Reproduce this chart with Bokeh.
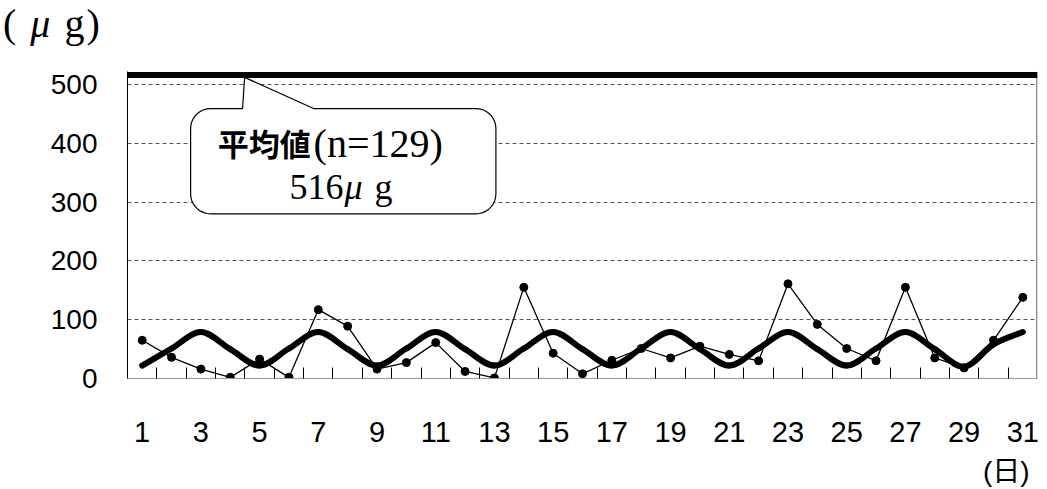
from bokeh.plotting import figure
from bokeh.layouts import column
from bokeh.models import Range1d, FixedTicker, Span, Div
from bokeh.core.properties import value
from bokeh.embed import file_html
from bokeh.resources import INLINE
import numpy as np

# --- data -------------------------------------------------------------
days = list(range(1, 32))
daily_intake = [65, 36, 16, 2, 33, 2, 117, 89, 16, 27, 61, 12, 1, 155, 43, 8,
                31, 51, 35, 55, 41, 30, 161, 92, 51, 30, 155, 35, 18, 65, 138]
reference_curve = [22, 51, 79, 50, 22, 51, 79, 50, 22, 51, 79, 50, 22, 51, 79, 50,
                   22, 51, 79, 50, 22, 51, 79, 50, 22, 51, 79, 50, 20, 58, 79]
mean_value = 516
sample_count = 129
x_tick_days = list(range(1, 32, 2))
y_ticks = [0, 100, 200, 300, 400, 500]
grid_levels = [100, 200, 300, 400, 500]

SANS = "Liberation Sans"
W, H = 1047, 489
HEAD_H, FOOT_H = 50, 31

# --- unit caption above the chart --------------------------------------
head = Div(width=W, height=HEAD_H, margin=0,
           text='<div style="padding:4px 0 0 3px; font-family:\'Liberation Serif\'; '
                'font-size:40px; line-height:40px; letter-spacing:2px; '
                'white-space:nowrap; color:#000;">( <i>μ</i> g)</div>')

# --- main chart ---------------------------------------------------------
p = figure(width=W, height=H - HEAD_H - FOOT_H, output_backend="svg", toolbar_location=None,
           x_range=Range1d(0.5, 31.5), y_range=Range1d(0, 522),
           min_border_left=127, min_border_right=10,
           min_border_top=21, min_border_bottom=80, margin=0)
p.outline_line_color = None
p.background_fill_color = "white"
p.border_fill_color = "white"

# axes
p.xaxis.ticker = FixedTicker(ticks=x_tick_days,
                             minor_ticks=[d + 0.5 for d in days[:-1]])
p.xaxis.major_tick_in = 0
p.xaxis.major_tick_out = 0
p.xaxis.minor_tick_in = 11
p.xaxis.minor_tick_out = 0
p.xaxis.minor_tick_line_color = "black"
p.xaxis.axis_line_color = "#999999"
p.xaxis.major_label_text_font = SANS
p.xaxis.major_label_text_font_size = "29px"
p.xaxis.major_label_text_color = "black"
p.xaxis.major_label_standoff = 43

p.yaxis.ticker = FixedTicker(ticks=y_ticks)
p.yaxis.major_tick_in = 0
p.yaxis.major_tick_out = 0
p.yaxis.minor_tick_line_color = None
p.yaxis.axis_line_color = "black"
p.yaxis.major_label_text_font = SANS
p.yaxis.major_label_text_font_size = "28px"
p.yaxis.major_label_text_color = "black"
p.yaxis.major_label_standoff = 30

p.xgrid.visible = False
p.ygrid.ticker = FixedTicker(ticks=grid_levels)
p.ygrid.grid_line_color = "#555555"
p.ygrid.grid_line_dash = "4 3"
p.ygrid.grid_line_width = 1

# right frame edge
p.add_layout(Span(location=31.48, dimension="height", line_color="#444444", line_width=1))


# speech-bubble callout for the mean value
def rounded_callout(x0, x1, y0, y1, rx, ry, base_l, base_r, tip):
    t = np.linspace(0, np.pi / 2, 10)
    xs, ys = [], []
    xs += list(x0 + rx - rx * np.cos(t)); ys += list(y1 - ry + ry * np.sin(t))
    xs += [base_l, tip[0], base_r]; ys += [y1, tip[1], y1]
    xs += list(x1 - rx + rx * np.sin(t)); ys += list(y1 - ry + ry * np.cos(t))
    xs += list(x1 - rx + rx * np.cos(t)); ys += list(y0 + ry - ry * np.sin(t))
    xs += list(x0 + rx - rx * np.sin(t)); ys += list(y0 + ry - ry * np.cos(t))
    return xs, ys


cx, cy = rounded_callout(2.65, 13.05, 280, 459, 0.68, 34, 4.42, 6.84, (4.49, 512))
p.patch(cx, cy, fill_color="white", line_color="black", line_width=1.2)

p.text(x=[6.74], y=[402], text=["平均値"], text_align="right", text_baseline="middle",
       text_font=value("Noto Sans CJK JP"), text_font_size="31px",
       text_font_style="bold", text_color="black")
p.text(x=[6.84], y=[400], text=[f"(n={sample_count})"], text_align="left",
       text_baseline="middle", text_font=value("Liberation Serif"),
       text_font_size="40px", text_color="black")
# second line: value, italic micro sign, gram
for part, dx, style in [(f"{mean_value}", -51, "normal"), ("μ", 4, "italic"), ("g", 34, "normal")]:
    p.text(x=[7.76], y=[326], text=[part], x_offset=dx, text_align="left",
           text_baseline="middle", text_font=value("Liberation Serif"),
           text_font_size="36px", text_font_style=style, text_color="black")

# mean line
p.add_layout(Span(location=mean_value, dimension="width", line_color="black", line_width=6))


# smoothed curve through the daily points (cubic Bezier, Catmull-Rom style tangents)
def smooth_segments(xs, ys, tension=1 / 6):
    xs = np.asarray(xs, dtype=float)
    ys = np.asarray(ys, dtype=float)
    px = np.concatenate([[xs[0]], xs, [xs[-1]]])
    py = np.concatenate([[ys[0]], ys, [ys[-1]]])
    seg = dict(x0=[], y0=[], x1=[], y1=[], cx0=[], cy0=[], cx1=[], cy1=[])
    for i in range(1, len(xs)):
        a, b = i, i + 1
        seg["x0"].append(px[a]); seg["y0"].append(py[a])
        seg["x1"].append(px[b]); seg["y1"].append(py[b])
        seg["cx0"].append(px[a] + (px[b] - px[a - 1]) * tension)
        seg["cy0"].append(py[a] + (py[b] - py[a - 1]) * tension)
        seg["cx1"].append(px[b] - (px[b + 1] - px[a]) * tension)
        seg["cy1"].append(py[b] - (py[b + 1] - py[a]) * tension)
    return seg


curve = smooth_segments(days, reference_curve)
p.bezier(line_width=6, line_color="black", line_cap="round", **curve)

# daily series
p.line(days, daily_intake, line_width=1.3, color="black")
p.scatter(days, daily_intake, size=8, color="black")

# --- day unit below the last tick label ----------------------------------
foot = Div(width=W, height=FOOT_H, margin=0,
           text='<div style="padding:0 0 0 983px; '
                'font-family:\'Liberation Sans\',\'Noto Sans CJK JP\'; font-size:28px; '
                'line-height:28px; white-space:nowrap; color:#000;">(日)</div>')

layout = column(head, p, foot, spacing=0)
open("out.html", "w").write(file_html(layout, INLINE))
